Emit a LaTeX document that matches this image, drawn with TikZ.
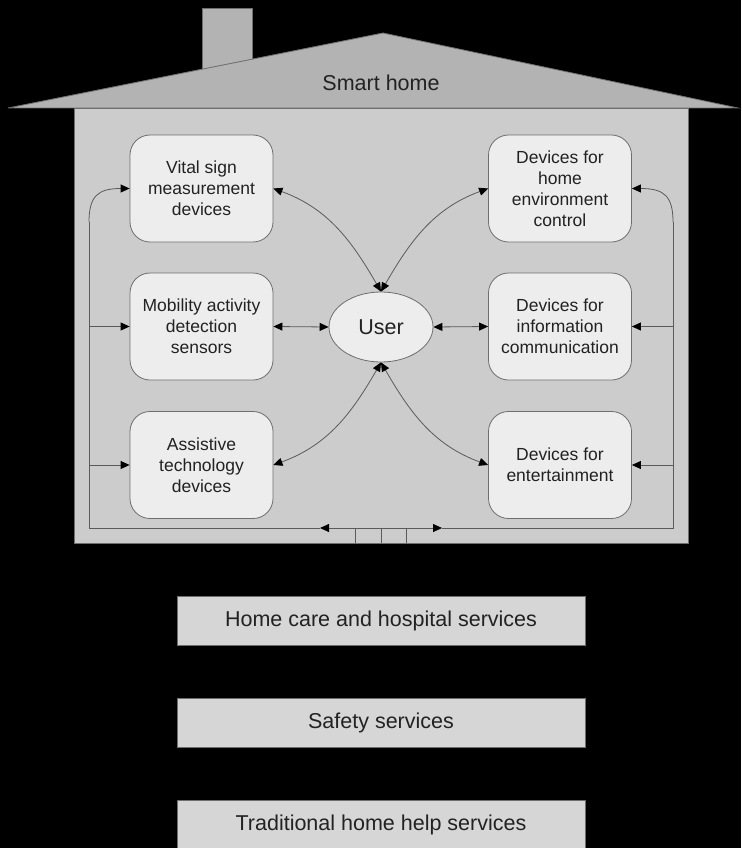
\documentclass[tikz,border=0pt]{standalone}
\usepackage{fontspec}
\setmainfont{Liberation Sans}
\usetikzlibrary{arrows.meta,shapes.geometric}
\definecolor{bodygray}{HTML}{CCCCCC}
\definecolor{roofgray}{HTML}{B3B3B3}
\definecolor{boxfill}{HTML}{EDEDED}
\definecolor{svcfill}{HTML}{D6D6D6}
\definecolor{edgegray}{HTML}{6E6E6E}
\definecolor{linkgray}{HTML}{5A5A5A}
\definecolor{inkdark}{HTML}{222222}
\tikzset{
  tip/.tip={Triangle[length=9pt,width=8pt,color=black,fill=black]},
  outline/.style={draw=edgegray,line width=0.8pt},
  devbox/.style={outline,fill=boxfill,rounded corners=20pt,minimum width=143pt,
    minimum height=107pt,inner sep=0pt,align=center,text=inkdark,
    font=\fontsize{17.5}{21}\selectfont},
  svcbox/.style={outline,fill=svcfill,minimum width=408pt,minimum height=49pt,
    inner sep=0pt,text=inkdark,font=\fontsize{21.5}{26}\selectfont},
  link/.style={draw=linkgray,line width=0.8pt},
  onearrow/.style={link,-tip},
  twoarrow/.style={link,tip-tip},
}
\begin{document}
\begin{tikzpicture}[x=1pt,y=-1pt]
  % page
  \fill[black] (0,0) rectangle (741,848);
  \useasboundingbox (0,0) rectangle (741,848);

  % chimney, roof and walls
  \draw[outline,fill=roofgray] (202,70) rectangle (252,8);
  \draw[outline,fill=bodygray] (74,108) rectangle (688,543);
  \draw[outline,fill=roofgray] (8,108) -- (383,33) -- (738,108) -- cycle;
  \node[text=inkdark,font=\fontsize{21.5}{26}\selectfont] (title) at (381,83) {Smart home};

  % devices
  \node[devbox] (vital) at (201.5,188.5) {Vital sign\\measurement\\devices};
  \node[devbox] (mob)   at (201.5,326.5) {Mobility activity\\detection\\sensors};
  \node[devbox] (ast)   at (201.5,465)   {Assistive\\technology\\devices};
  \node[devbox] (env)   at (560,188.5)   {Devices for\\home\\environment\\control};
  \node[devbox] (info)  at (560,326.5)   {Devices for\\information\\communication};
  \node[devbox] (ent)   at (560,465)     {Devices for\\entertainment};

  % user
  \node[ellipse,outline,fill=boxfill,minimum width=104pt,minimum height=70pt,
        inner sep=0pt,text=inkdark,font=\fontsize{21.5}{26}\selectfont] (user) at (381,327) {User};

  % user links
  \draw[twoarrow] (vital.east) to[out=-20,in=120] (user.north);
  \draw[twoarrow] (env.west) to[out=200,in=60] (user.north);
  \draw[twoarrow] (mob.east) -- (user.west);
  \draw[twoarrow] (info.west) -- (user.east);
  \draw[twoarrow] (ast.east) to[out=20,in=-120] (user.south);
  \draw[twoarrow] (ent.west) to[out=160,in=-60] (user.south);

  % supply loop along the bottom and sides
  \coordinate (bl) at (89,528);
  \coordinate (br) at (673,528);
  \coordinate (bm) at (381,528);
  \coordinate (al) at (320,528);
  \coordinate (ar) at (442,528);
  \coordinate (lturn) at (89,222);
  \coordinate (rturn) at (673,222);
  \coordinate (lmob) at (89,326.5);
  \coordinate (last) at (89,465);
  \coordinate (rinfo) at (673,326.5);
  \coordinate (rent) at (673,465);

  \draw[onearrow] (bm) -- (al);
  \draw[link] (al) -- (bl) -- (lturn);
  \draw[onearrow] (lturn) .. controls (89,196) and (98,188.5) .. (vital.west);
  \draw[onearrow] (bm) -- (ar);
  \draw[link] (ar) -- (br) -- (rturn);
  \draw[onearrow] (rturn) .. controls (673,196) and (664,188.5) .. (env.east);
  \draw[onearrow] (lmob) -- (mob.west);
  \draw[onearrow] (last) -- (ast.west);
  \draw[onearrow] (rinfo) -- (info.east);
  \draw[onearrow] (rent) -- (ent.east);

  % feed through the floor
  \coordinate (f1) at (355,528);
  \coordinate (f2) at (381,528);
  \coordinate (f3) at (406,528);
  \coordinate (g1) at (355,543);
  \coordinate (g2) at (381,543);
  \coordinate (g3) at (406,543);
  \draw[link] (f1) -- (g1) (f2) -- (g2) (f3) -- (g3);

  % services
  \node[svcbox] (care)   at (381,620.5) {Home care and hospital services};
  \node[svcbox] (safety) at (381,722.5) {Safety services};
  \node[svcbox] (help)   at (381,824.5) {Traditional home help services};
\end{tikzpicture}
\end{document}
